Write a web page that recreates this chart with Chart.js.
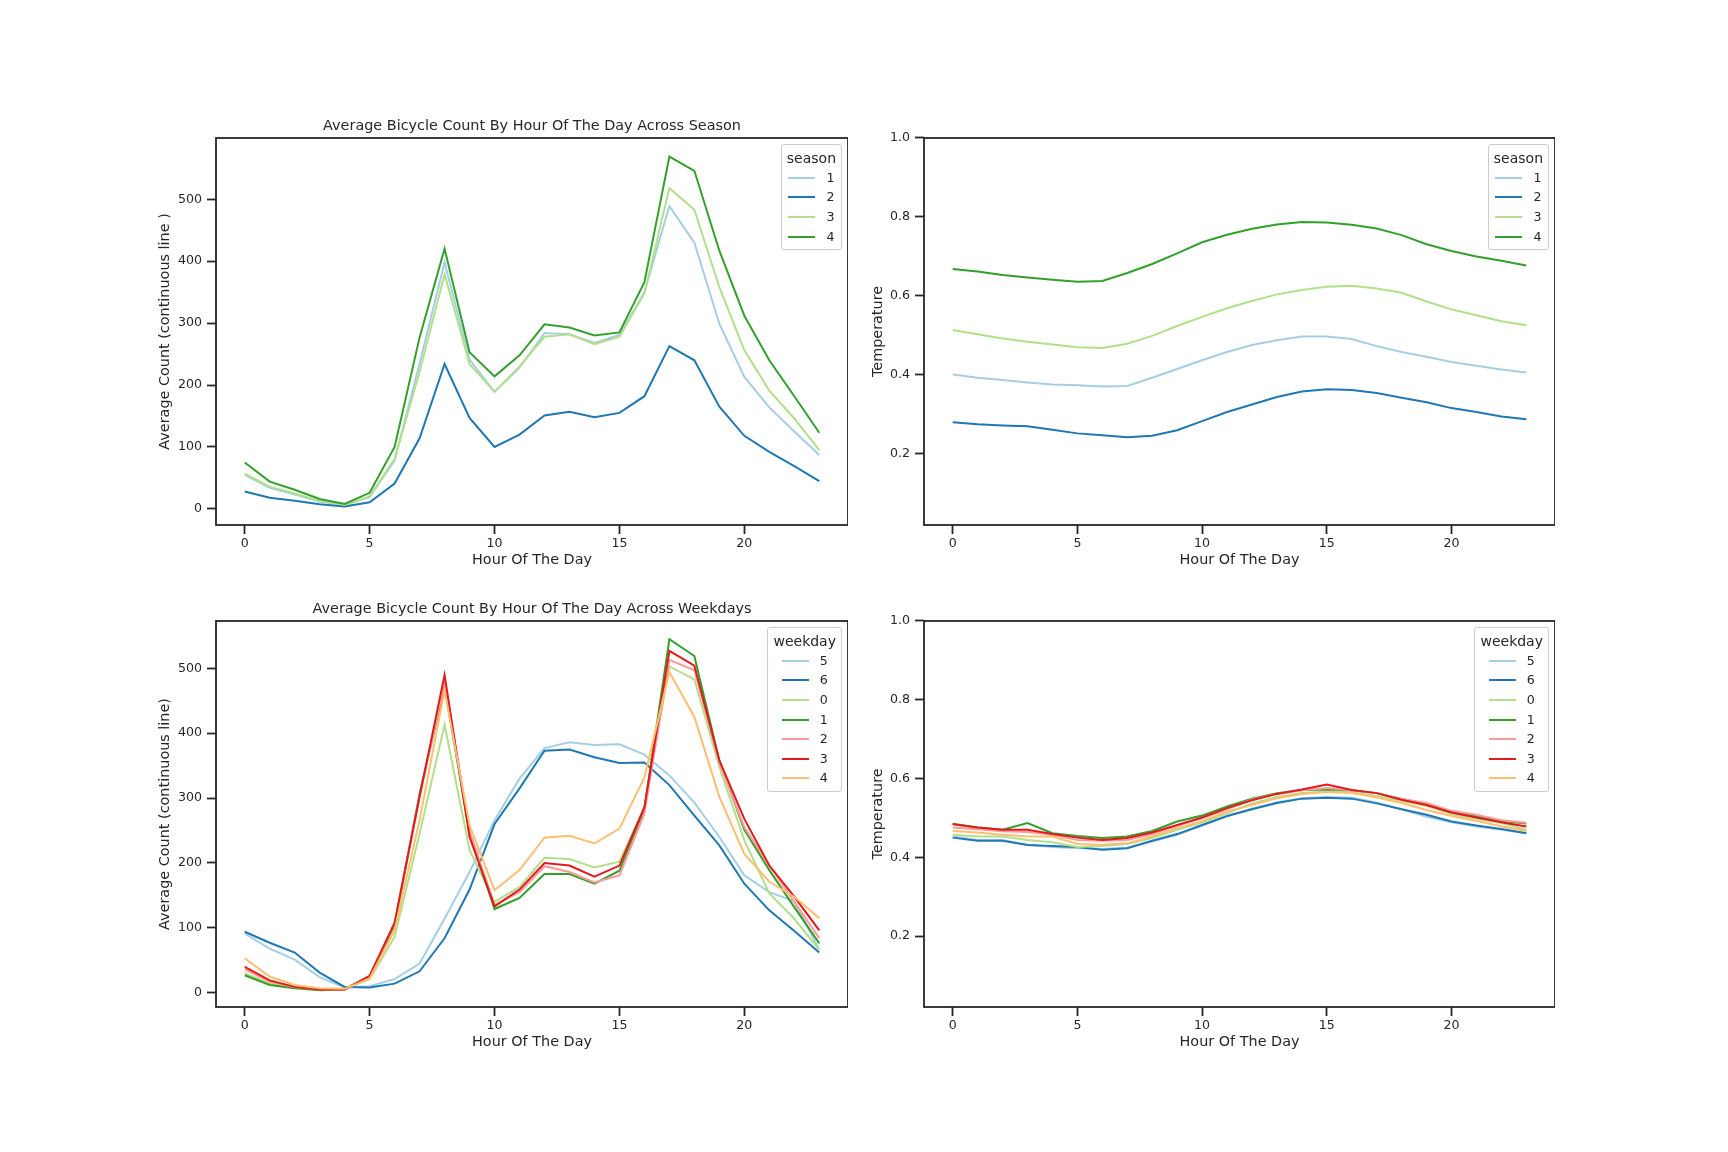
<!DOCTYPE html>
<html>
<head>
<meta charset="utf-8">
<script src="https://cdn.jsdelivr.net/npm/chart.js@4.4.1/dist/chart.umd.min.js"></script>
<style>
  html, body { margin: 0; padding: 0; background: #fff; }
  body { width: 1728px; height: 1152px; position: relative; overflow: hidden; font-family: "DejaVu Sans", sans-serif; color: #262626; }
  canvas { position: absolute; }
  .legend { position: absolute; background: rgba(255,255,255,0.8); border: 1px solid #cccccc; border-radius: 3px;
            padding: 4px 5px 3px; display: flex; flex-direction: column; align-items: center; }
  .legend__title { font-size: 14px; line-height: 19px; height: 19px; white-space: nowrap; }
  .legend__items { display: flex; flex-direction: column; }
  .legend__row { display: flex; align-items: center; height: 19.6px; }
  .legend__line { width: 27px; height: 2px; margin-right: 11px; }
  .legend__label { font-size: 12.6px; line-height: 14px; }
</style>
</head>
<body>
<canvas id="chart0"></canvas>
<canvas id="chart1"></canvas>
<canvas id="chart2"></canvas>
<canvas id="chart3"></canvas>
<script>
// hours on the x axis
const hours = [0, 1, 2, 3, 4, 5, 6, 7, 8, 9, 10, 11, 12, 13, 14, 15, 16, 17, 18, 19, 20, 21, 22, 23]
const hourTicks = [0, 5, 10, 15, 20]
const countTicks = [0, 100, 200, 300, 400, 500]
const tempTicks = [0.2, 0.4, 0.6, 0.8, 1.0]

// average count by season
const seasonNames = ['1', '2', '3', '4']
const seasonCount1 = [55, 34, 23, 12, 6, 19, 78, 235, 398, 241, 189, 228, 284, 282, 268, 281, 350, 489, 430, 299, 213, 164, 125, 87]
const seasonCount2 = [28, 18, 13, 7.5, 3.8, 10.7, 41, 114, 234, 147, 100, 120, 151, 157, 148, 155, 182, 263, 240, 165, 118, 92, 69, 45]
const seasonCount3 = [57, 36, 25, 13, 6.4, 20, 81, 221, 379, 234, 189, 230, 278, 282, 266, 278, 348, 518, 483, 358, 256, 191, 146, 95]
const seasonCount4 = [75, 44, 31, 16, 8, 26, 100, 277, 420, 253, 214, 248, 298, 293, 280, 285, 366, 569, 546, 417, 312, 240, 182, 123]

// temperature by season
const seasonTemp1 = [0.401, 0.393, 0.387, 0.381, 0.376, 0.374, 0.371, 0.372, 0.393, 0.415, 0.437, 0.458, 0.476, 0.488, 0.497, 0.497, 0.491, 0.473, 0.458, 0.446, 0.433, 0.423, 0.414, 0.406]
const seasonTemp2 = [0.280, 0.275, 0.272, 0.270, 0.261, 0.252, 0.247, 0.242, 0.246, 0.260, 0.283, 0.306, 0.325, 0.344, 0.358, 0.364, 0.362, 0.354, 0.342, 0.331, 0.316, 0.306, 0.295, 0.288]
const seasonTemp3 = [0.514, 0.503, 0.492, 0.484, 0.477, 0.470, 0.468, 0.479, 0.499, 0.524, 0.547, 0.569, 0.587, 0.604, 0.615, 0.623, 0.626, 0.619, 0.608, 0.586, 0.566, 0.551, 0.536, 0.526]
const seasonTemp4 = [0.668, 0.662, 0.653, 0.647, 0.641, 0.636, 0.638, 0.658, 0.681, 0.708, 0.736, 0.755, 0.770, 0.781, 0.787, 0.786, 0.780, 0.771, 0.754, 0.731, 0.714, 0.700, 0.689, 0.677]

// average count by weekday
const weekdayNames = ['5', '6', '0', '1', '2', '3', '4']
const weekdayCount5 = [91, 68, 51, 24, 8, 10, 21, 45, 114, 186, 266, 330, 377, 386, 382, 383, 367, 335, 293, 240, 181, 155, 141, 66]
const weekdayCount6 = [94, 77, 62, 31, 9, 8, 14, 33, 84, 159, 260, 315, 373, 375, 363, 354, 355, 320, 273, 227, 168, 127, 95, 62]
const weekdayCount0 = [30, 14, 8, 5, 5.6, 21, 86, 245, 413, 220, 140, 163, 208, 206, 193, 202, 286, 503, 483, 348, 235, 153, 114, 66]
const weekdayCount1 = [27, 12, 7, 4, 5, 25, 104, 307, 472, 245, 129, 146, 183, 183, 168, 188, 284, 545, 519, 358, 251, 189, 132, 76]
const weekdayCount2 = [36, 17, 9, 5, 5, 25, 107, 302, 479, 250, 135, 155, 195, 186, 170, 181, 276, 513, 497, 355, 255, 196, 140, 84]
const weekdayCount3 = [40, 19, 9, 5, 5, 26, 108, 302, 490, 240, 133, 159, 200, 196, 179, 196, 286, 527, 504, 358, 268, 196, 148, 96]
const weekdayCount4 = [53, 25, 12, 7, 6, 22, 96, 266, 466, 258, 158, 189, 239, 242, 230, 253, 332, 494, 425, 302, 214, 171, 148, 115]

// temperature by weekday
const weekdayTemp5 = [0.453, 0.444, 0.444, 0.432, 0.426, 0.423, 0.421, 0.425, 0.440, 0.457, 0.480, 0.504, 0.524, 0.540, 0.550, 0.553, 0.551, 0.539, 0.522, 0.503, 0.489, 0.478, 0.470, 0.462]
const weekdayTemp6 = [0.450, 0.442, 0.442, 0.431, 0.429, 0.426, 0.419, 0.423, 0.442, 0.459, 0.482, 0.505, 0.522, 0.538, 0.549, 0.551, 0.549, 0.537, 0.522, 0.508, 0.491, 0.481, 0.472, 0.461]
const weekdayTemp0 = [0.457, 0.453, 0.453, 0.444, 0.438, 0.426, 0.429, 0.434, 0.449, 0.470, 0.488, 0.512, 0.537, 0.553, 0.563, 0.567, 0.565, 0.556, 0.543, 0.530, 0.510, 0.498, 0.487, 0.470]
const weekdayTemp1 = [0.485, 0.476, 0.470, 0.487, 0.461, 0.454, 0.449, 0.453, 0.467, 0.491, 0.506, 0.529, 0.549, 0.563, 0.571, 0.572, 0.570, 0.563, 0.548, 0.535, 0.515, 0.505, 0.492, 0.486]
const weekdayTemp2 = [0.476, 0.471, 0.466, 0.464, 0.457, 0.444, 0.442, 0.444, 0.459, 0.480, 0.499, 0.522, 0.546, 0.561, 0.570, 0.576, 0.570, 0.563, 0.548, 0.538, 0.518, 0.508, 0.494, 0.488]
const weekdayTemp3 = [0.484, 0.476, 0.470, 0.470, 0.459, 0.450, 0.444, 0.449, 0.463, 0.482, 0.501, 0.525, 0.545, 0.561, 0.572, 0.585, 0.571, 0.563, 0.546, 0.533, 0.514, 0.501, 0.489, 0.478]
const weekdayTemp4 = [0.467, 0.463, 0.457, 0.453, 0.453, 0.434, 0.432, 0.436, 0.453, 0.474, 0.491, 0.516, 0.533, 0.550, 0.561, 0.566, 0.563, 0.552, 0.538, 0.520, 0.505, 0.492, 0.479, 0.467]

// Paired palette
const seasonColors = ['#a6cee3', '#1f78b4', '#b2df8a', '#33a02c']
const weekdayColors = ['#a6cee3', '#1f78b4', '#b2df8a', '#33a02c', '#fb9a99', '#e31a1c', '#fdbf6f']

const ink = '#262626'
const family = '"DejaVu Sans", sans-serif'

const panels = [
  { id: 'chart0', left: 216, top: 138, w: 632, h: 387,
    title: 'Average Bicycle Count By Hour Of The Day Across Season', yTitle: 'Average Count (continuous line )', yPad: 30.6,
    yMin: -26, yMax: 599, yTicks: countTicks, decimals: 0, legendTitle: 'season', names: seasonNames, colors: seasonColors,
    series: [seasonCount1, seasonCount2, seasonCount3, seasonCount4] },
  { id: 'chart1', left: 924, top: 138, w: 631, h: 387,
    title: '', yTitle: 'Temperature', yPad: 35.6,
    yMin: 0.02, yMax: 1.0, yTicks: tempTicks, decimals: 1, legendTitle: 'season', names: seasonNames, colors: seasonColors,
    series: [seasonTemp1, seasonTemp2, seasonTemp3, seasonTemp4] },
  { id: 'chart2', left: 216, top: 621, w: 632, h: 386,
    title: 'Average Bicycle Count By Hour Of The Day Across Weekdays', yTitle: 'Average Count (continuous line)', yPad: 30.6,
    yMin: -22, yMax: 573, yTicks: countTicks, decimals: 0, legendTitle: 'weekday', names: weekdayNames, colors: weekdayColors,
    series: [weekdayCount5, weekdayCount6, weekdayCount0, weekdayCount1, weekdayCount2, weekdayCount3, weekdayCount4] },
  { id: 'chart3', left: 924, top: 621, w: 631, h: 386,
    title: '', yTitle: 'Temperature', yPad: 35.6,
    yMin: 0.02, yMax: 1.0, yTicks: tempTicks, decimals: 1, legendTitle: 'weekday', names: weekdayNames, colors: weekdayColors,
    series: [weekdayTemp5, weekdayTemp6, weekdayTemp0, weekdayTemp1, weekdayTemp2, weekdayTemp3, weekdayTemp4] }
]

// full box around the plot area
const frame = {
  id: 'frame',
  afterDraw(chart) {
    const { ctx, chartArea: a } = chart
    ctx.save()
    ctx.strokeStyle = ink
    ctx.lineWidth = 1.8
    ctx.strokeRect(a.left, a.top, a.right - a.left, a.bottom - a.top)
    ctx.restore()
  }
}

function makeLegend(p, chart, canvasLeft, canvasTop) {
  const a = chart.chartArea
  const box = document.createElement('div')
  box.className = 'legend'
  box.style.right = (1728 - (canvasLeft + a.right) + 6) + 'px'
  box.style.top = (canvasTop + a.top + 6) + 'px'

  const title = document.createElement('div')
  title.className = 'legend__title'
  title.textContent = p.legendTitle

  const items = document.createElement('div')
  items.className = 'legend__items'
  p.names.forEach((name, i) => {
    const row = document.createElement('div')
    row.className = 'legend__row'
    const line = document.createElement('span')
    line.className = 'legend__line'
    line.style.backgroundColor = p.colors[i]
    const label = document.createElement('span')
    label.className = 'legend__label'
    label.textContent = name
    row.append(line, label)
    items.appendChild(row)
  })
  box.append(title, items)
  document.body.appendChild(box)
}

function makeChart(p) {
  const canvas = document.getElementById(p.id)
  const canvasLeft = p.left - 90
  const canvasTop = p.top - 40
  canvas.width = p.w + 90
  canvas.height = p.h + 100
  canvas.style.left = canvasLeft + 'px'
  canvas.style.top = canvasTop + 'px'

  const chart = new Chart(canvas, {
    type: 'line',
    data: {
      datasets: p.series.map((values, i) => ({
        label: p.names[i],
        data: hours.map((h, j) => ({ x: h, y: values[j] })),
        borderColor: p.colors[i],
        backgroundColor: p.colors[i],
        borderWidth: 2,
        pointRadius: 0,
        tension: 0,
        fill: false,
        order: -i
      }))
    },
    options: {
      responsive: false,
      animation: false,
      devicePixelRatio: 1,
      layout: { padding: 0 },
      plugins: {
        legend: { display: false },
        tooltip: { enabled: false },
        title: {
          display: true,
          fullSize: false,
          text: p.title,
          color: ink,
          font: { family: family, size: 14.4, weight: 'normal' },
          padding: { top: 19.7, bottom: 3 }
        }
      },
      scales: {
        x: {
          type: 'linear',
          min: -1.15,
          max: 24.15,
          afterFit: (scale) => { scale.height = 60 },
          afterBuildTicks: (scale) => { scale.ticks = hourTicks.map(v => ({ value: v })) },
          grid: { display: true, drawOnChartArea: false, tickLength: 9, tickWidth: 1.8, tickColor: ink },
          border: { display: false },
          ticks: { color: ink, font: { family: family, size: 12.6 }, padding: 2, maxRotation: 0, autoSkip: false,
                   callback: (v) => String(v) },
          title: { display: true, text: 'Hour Of The Day', color: ink, font: { family: family, size: 14.4 },
                   padding: { top: 0, bottom: 16.4 } }
        },
        y: {
          type: 'linear',
          min: p.yMin,
          max: p.yMax,
          afterFit: (scale) => { scale.width = 90 },
          afterBuildTicks: (scale) => { scale.ticks = p.yTicks.map(v => ({ value: v })) },
          grid: { display: true, drawOnChartArea: false, tickLength: 9, tickWidth: 1.8, tickColor: ink },
          border: { display: false },
          ticks: { color: ink, font: { family: family, size: 12.6 }, padding: 5, autoSkip: false,
                   callback: (v) => Number(v).toFixed(p.decimals) },
          title: { display: true, text: p.yTitle, color: ink, font: { family: family, size: 14.4 },
                   padding: { top: p.yPad, bottom: 0 } }
        }
      }
    },
    plugins: [frame]
  })

  makeLegend(p, chart, canvasLeft, canvasTop)
}

panels.forEach(makeChart)
</script>
</body>
</html>
